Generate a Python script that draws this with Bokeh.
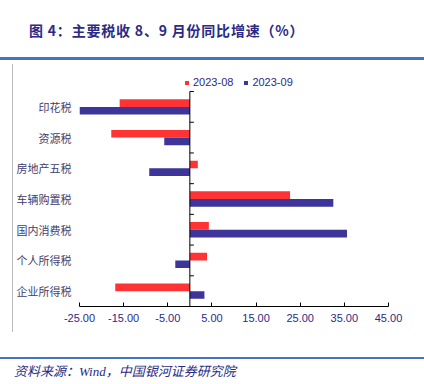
from bokeh.plotting import figure
from bokeh.models import (Range1d, FixedTicker, NumeralTickFormatter,
                          Legend, LegendItem, ColumnDataSource, Div)
from bokeh.layouts import column, row
from bokeh.transform import dodge
from bokeh.embed import file_html
from bokeh.resources import INLINE

categories = ["印花税", "资源税", "房地产五税", "车辆购置税", "国内消费税", "个人所得税", "企业所得税"]
s_2023_08 = [-15.9, -17.8, 1.8, 22.7, 4.3, 3.9, -16.9]
s_2023_09 = [-25.0, -5.8, -9.2, 32.5, 35.6, -3.3, 3.3]
x_ticks = [-25, -15, -5, 5, 15, 25, 35, 45]
series_names = ["2023-08", "2023-09"]
title_text = "图 4：主要税收 8、9 月份同比增速（%）"
source_text = "资料来源：Wind，中国银河证券研究院"

RED = "#FF3333"
BLUE = "#3D3599"
NAVY = "#2B2A86"
SEP = "#4472C4"

n = len(categories)
ypos = [n - i - 0.5 for i in range(n)]
src = ColumnDataSource(dict(cat=categories, y=ypos, a=s_2023_08, b=s_2023_09))

p = figure(width=411, height=297, output_backend="svg", toolbar_location=None,
           y_range=Range1d(0, n + 0.62), x_range=Range1d(-25, 45), margin=0,
           min_border_left=65, min_border_right=36, min_border_top=12, min_border_bottom=51)
p.outline_line_color = None
p.xgrid.visible = False
p.ygrid.visible = False
p.background_fill_color = "white"

r1 = p.hbar(y=dodge("y", 0.125), right="a", height=0.25, left=0,
            source=src, fill_color=RED, line_color=None)
r2 = p.hbar(y=dodge("y", -0.125), right="b", height=0.25, left=0,
            source=src, fill_color=BLUE, line_color=None)

# zero line (category axis) with category ticks
p.segment(x0=[0], y0=[0], x1=[0], y1=[n], line_color="#000000", line_width=1)
p.ray(x=0, y=list(range(1, n + 1)), length=4, angle=0, length_units="screen",
      line_color="#000000", line_width=1)

xa = p.xaxis[0]
xa.ticker = FixedTicker(ticks=x_ticks)
xa.formatter = NumeralTickFormatter(format="0.00")
xa.major_tick_in = 4
xa.major_tick_out = 0
xa.minor_tick_in = 0
xa.minor_tick_out = 0
xa.axis_line_color = "#000000"
xa.major_tick_line_color = "#000000"
xa.major_label_text_font = "Liberation Sans"
xa.major_label_text_font_size = "11px"
xa.major_label_text_color = NAVY
xa.major_label_standoff = 7

ya = p.yaxis[0]
ya.ticker = FixedTicker(ticks=ypos)
ya.major_label_overrides = {y: c for y, c in zip(ypos, categories)}
ya.axis_line_color = None
ya.major_tick_line_color = None
ya.minor_tick_line_color = None
ya.major_tick_in = 0
ya.major_tick_out = 0
ya.minor_tick_in = 0
ya.minor_tick_out = 0
ya.major_label_text_font = "Noto Sans CJK SC"
ya.major_label_text_font_size = "11px"
ya.major_label_text_color = "#3E3E6E"
ya.major_label_standoff = 8

legend = Legend(items=[LegendItem(label=series_names[0], renderers=[r1]),
                       LegendItem(label=series_names[1], renderers=[r2])],
                orientation="horizontal", location=(105, 218),
                glyph_width=5, glyph_height=5, label_standoff=4, spacing=10,
                padding=0, margin=0, border_line_color=None, background_fill_alpha=0,
                label_text_font="Liberation Sans", label_text_font_size="11px",
                label_text_color=NAVY, label_height=12)
p.add_layout(legend, "center")

title_div = Div(width=424, height=57, margin=0, text=(
    '<div style="padding:20px 0 0 29px;font-family:\'Noto Sans CJK SC\';font-weight:bold;'
    'font-size:14px;line-height:20px;color:%s;letter-spacing:0.8px;white-space:nowrap">%s</div>'
    % (NAVY, title_text)))
sep1 = Div(width=424, height=3, margin=0, styles={"background-color": SEP})
gray = Div(width=13, height=297, margin=0, text=(
    '<div style="margin:4px 0 0 12px;width:1px;height:268px;background:#BBBBBB"></div>'))
sep2 = Div(width=424, height=2, margin=0, styles={"background-color": SEP})
source_div = Div(width=424, height=25, margin=0, text=(
    '<div style="padding:4px 0 0 14px;font-family:\'Liberation Serif\',\'Noto Sans CJK SC\';'
    'font-style:italic;font-size:13px;line-height:18px;color:%s;white-space:nowrap">%s</div>'
    % (NAVY, source_text)))

layout = column(title_div, sep1, row(gray, p, margin=0, spacing=0), sep2, source_div,
                margin=0, spacing=0)

open("out.html", "w").write(file_html(layout, INLINE))
